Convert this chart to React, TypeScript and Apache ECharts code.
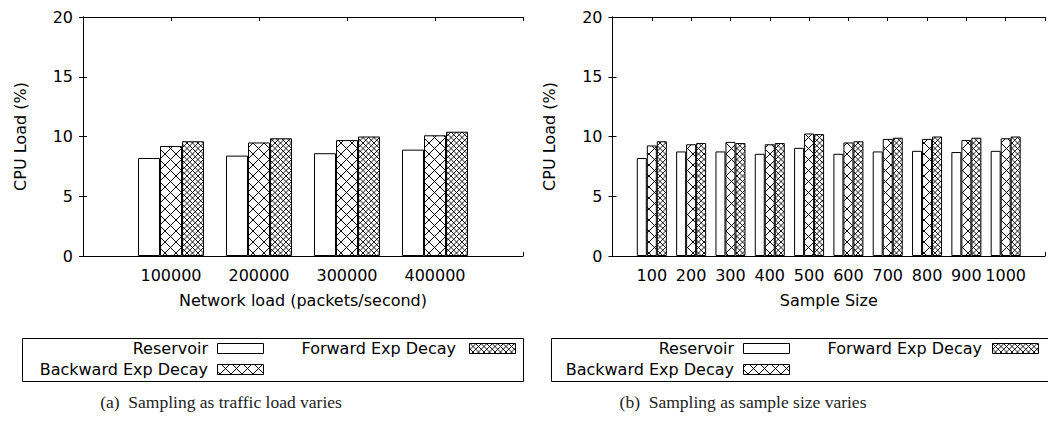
import React, { useEffect, useRef } from "react";
import * as echarts from "echarts";

const seriesNames = ["Reservoir", "Backward Exp Decay", "Forward Exp Decay"];

const loadCategories = [100000, 200000, 300000, 400000];
const loadReservoir = [8.2, 8.4, 8.6, 8.9];
const loadBackward = [9.2, 9.5, 9.7, 10.1];
const loadForward = [9.6, 9.85, 10.0, 10.4];

const sizeCategories = [100, 200, 300, 400, 500, 600, 700, 800, 900, 1000];
const sizeReservoir = [8.2, 8.75, 8.75, 8.55, 9.05, 8.55, 8.75, 8.8, 8.7, 8.8];
const sizeBackward = [9.25, 9.35, 9.55, 9.35, 10.25, 9.5, 9.8, 9.8, 9.7, 9.85];
const sizeForward = [9.6, 9.45, 9.45, 9.45, 10.2, 9.6, 9.9, 10.0, 9.9, 10.0];

const yMin = 0;
const yMax = 20;
const yStep = 5;

const xTitles = ["Network load (packets/second)", "Sample Size"];
const yTitle = "CPU Load (%)";
const captions = ["(a)  Sampling as traffic load varies", "(b)  Sampling as sample size varies"];

const SANS = "DejaVu Sans";
const SERIF = "Liberation Serif";

function makeTile(step: number, size: number, lw: number, color: string) {
  const c = document.createElement("canvas");
  c.width = size;
  c.height = size;
  const ctx = c.getContext("2d")!;
  ctx.fillStyle = "#fff";
  ctx.fillRect(0, 0, size, size);
  ctx.strokeStyle = color;
  ctx.lineWidth = lw;
  ctx.beginPath();
  for (let o = -size; o <= 2 * size; o += step) {
    ctx.moveTo(o, 0);
    ctx.lineTo(o + size, size);
    ctx.moveTo(o, size);
    ctx.lineTo(o + size, 0);
  }
  ctx.stroke();
  return c;
}

export default function App() {
  const ref = useRef<HTMLDivElement>(null);
  useEffect(() => {
    if (!ref.current) return;
    const chart = echarts.init(ref.current, undefined, { renderer: "svg" });

    const backPat: any = { image: makeTile(11, 11, 1, "#000"), repeat: "repeat" };
    const fwdPat: any = { image: makeTile(5.5, 11, 0.9, "#000"), repeat: "repeat" };
    const fills: any[] = ["#ffffff", backPat, fwdPat];

    const grids = [
      { left: 83, top: 17, width: 440, height: 239 },
      { left: 612.5, top: 17, width: 437, height: 239 },
    ];
    const cats = [loadCategories, sizeCategories];
    const xMax = [500000, 1100];
    const xStep = [100000, 100];
    const barW = [22, 10];
    const data = [
      [loadReservoir, loadBackward, loadForward],
      [sizeReservoir, sizeBackward, sizeForward],
    ];

    const xAxis: any[] = [];
    const yAxis: any[] = [];
    const series: any[] = [];
    const lineStyle = { color: "#000", width: 1 };
    for (let g = 0; g < 2; g++) {
      xAxis.push({
        type: "value",
        gridIndex: g,
        position: "bottom",
        min: 0,
        max: xMax[g],
        interval: xStep[g],
        axisLine: { show: true, onZero: false, lineStyle: { color: "#000", width: 1.2 } },
        axisTick: { show: true, inside: true, length: 4, lineStyle },
        splitLine: { show: false },
        axisLabel: {
          show: true,
          margin: 11,
          fontFamily: SANS,
          fontSize: 16,
          color: "#000",
          formatter: (v: number) => (cats[g].indexOf(v) >= 0 ? String(v) : ""),
        },
        name: xTitles[g],
        nameLocation: "middle",
        nameGap: 36,
        nameTextStyle: { fontFamily: SANS, fontSize: 16, color: "#000" },
      });
      xAxis.push({
        type: "value",
        gridIndex: g,
        position: "top",
        min: 0,
        max: xMax[g],
        interval: xStep[g],
        axisLine: { show: true, onZero: false, lineStyle },
        axisTick: { show: true, inside: true, length: 4, lineStyle },
        splitLine: { show: false },
        axisLabel: { show: false },
      });
      yAxis.push({
        type: "value",
        gridIndex: g,
        position: "left",
        min: yMin,
        max: yMax,
        interval: yStep,
        axisLine: { show: true, lineStyle },
        axisTick: { show: true, inside: true, length: 4, lineStyle },
        splitLine: { show: false },
        axisLabel: { show: true, margin: 10, fontFamily: SANS, fontSize: 16, color: "#000" },
        name: yTitle,
        nameLocation: "middle",
        nameGap: 55,
        nameTextStyle: { fontFamily: SANS, fontSize: 16, color: "#000" },
      });
      yAxis.push({
        type: "value",
        gridIndex: g,
        position: "right",
        min: yMin,
        max: yMax,
        interval: yStep,
        axisLine: { show: true, lineStyle },
        axisTick: { show: true, inside: true, length: 4, lineStyle },
        splitLine: { show: false },
        axisLabel: { show: false },
      });
      for (let s = 0; s < 3; s++) {
        series.push({
          type: "bar",
          name: seriesNames[s],
          xAxisIndex: g * 2,
          yAxisIndex: g * 2,
          barWidth: barW[g],
          barGap: "0%",
          data: cats[g].map((c, i) => [c, data[g][s][i]]),
          itemStyle: { color: fills[s], borderColor: "#000", borderWidth: 1 },
          emphasis: { disabled: true },
        });
      }
    }

    const legendDefs = [
      { box: [22, 338, 501, 43], resR: 208, resS: 217, fwdR: 456, fwdS: 469 },
      { box: [551, 338, 505, 43], resR: 734, resS: 743, fwdR: 982, fwdS: 992 },
    ];
    const graphic: any[] = [];
    legendDefs.forEach((d, gi) => {
      graphic.push({
        type: "rect",
        shape: { x: d.box[0] + 0.5, y: d.box[1] + 0.5, width: d.box[2], height: d.box[3] },
        style: { fill: "none", stroke: "#000", lineWidth: 1 },
        silent: true,
      });
      const items = [
        { name: seriesNames[0], r: d.resR, s: d.resS, y: 348, fill: fills[0] },
        { name: seriesNames[1], r: d.resR, s: d.resS, y: 369, fill: fills[1] },
        { name: seriesNames[2], r: d.fwdR, s: d.fwdS, y: 348, fill: fills[2] },
      ];
      items.forEach((it) => {
        graphic.push({
          type: "text",
          x: it.r,
          y: it.y,
          style: {
            text: it.name,
            fontFamily: SANS,
            fontSize: 16,
            fill: "#000",
            align: "right",
            verticalAlign: "middle",
          },
          silent: true,
        });
        graphic.push({
          type: "rect",
          shape: { x: it.s + 0.5, y: it.y - 5 + 0.5, width: 46, height: 10 },
          style: { fill: it.fill, stroke: "#000", lineWidth: 1 },
          silent: true,
        });
      });
      graphic.push({
        type: "text",
        x: gi === 0 ? 221 : 743,
        y: 402,
        style: {
          text: captions[gi],
          fontFamily: SERIF,
          fontSize: 17.5,
          fill: "#222",
          align: "center",
          verticalAlign: "middle",
        },
        silent: true,
      });
    });

    chart.setOption({
      animation: false,
      backgroundColor: "#fff",
      grid: grids,
      xAxis,
      yAxis,
      series,
      graphic,
    });
    return () => chart.dispose();
  }, []);
  return (
    <div
      ref={ref}
      style={{ position: "absolute", left: 0, top: 0, width: 1048, height: 429, overflow: "hidden" }}
    />
  );
}
